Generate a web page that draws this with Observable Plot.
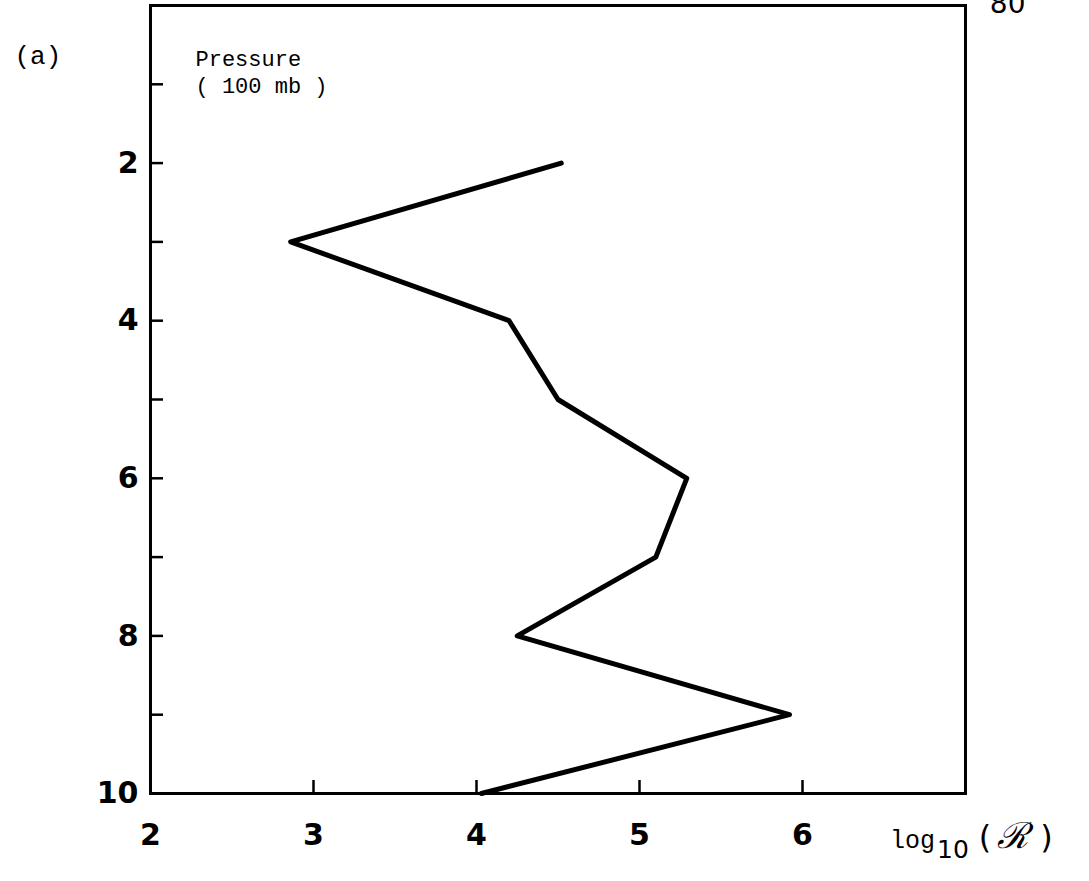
<!DOCTYPE html>
<html>
<head>
<meta charset="utf-8">
<script src="https://cdn.jsdelivr.net/npm/d3@7"></script>
<script src="https://cdn.jsdelivr.net/npm/@observablehq/plot@0.6"></script>
<style>
  body { margin: 0; background: #fff; }
  #chart svg { display: block; }
</style>
</head>
<body>
<div id="chart"></div>
<script>
// Vertical profile of log10(R) against pressure (in units of 100 mb)
const pressure = [2, 3, 4, 5, 6, 7, 8, 9, 10];
const logR = [4.52, 2.86, 4.2, 4.5, 5.29, 5.1, 4.25, 5.92, 4.03];

const xTicks = [3, 4, 5, 6];
const xTickLabels = [2, 3, 4, 5, 6];
const yTicks = [1, 2, 3, 4, 5, 6, 7, 8, 9];
const yTickLabels = [2, 4, 6, 8, 10];

const profile = pressure.map((p, i) => ({pressure: p, logR: logR[i]}));

const mono = "'Liberation Mono', 'DejaVu Sans Mono', monospace";
const sans = "'DejaVu Sans', sans-serif";

const chart = Plot.plot({
  width: 1089,
  height: 881,
  marginLeft: 150,
  marginRight: 124,
  marginTop: 5,
  marginBottom: 88,
  x: {domain: [2, 7]},
  y: {domain: [0, 10], reverse: true},
  style: {background: "white", color: "black", overflow: "visible"},
  marks: [
    // inward ticks on the bottom and left edges
    Plot.axisX({ticks: xTicks, tickSize: 13, dy: -13, fill: "none", label: null, strokeWidth: 2.5}),
    Plot.axisY({ticks: yTicks, tickSize: 13, dx: 13, fill: "none", label: null, strokeWidth: 2.5}),
    // tick labels
    Plot.axisX({ticks: xTickLabels, tickFormat: "d", tickSize: 0, tickPadding: 30, label: null,
      fontSize: 30, fontWeight: "bold", fontFamily: sans}),
    Plot.axisY({ticks: yTickLabels, tickFormat: "d", tickSize: 0, tickPadding: 12, label: null,
      fontSize: 30, fontWeight: "bold", fontFamily: sans}),
    Plot.frame({stroke: "black", strokeWidth: 3}),
    Plot.line(profile, {x: "logR", y: "pressure", stroke: "black", strokeWidth: 5,
      strokeLinejoin: "round", strokeLinecap: "round"}),
    Plot.text(["(a)"], {frameAnchor: "top-left", dx: -136, dy: 40, textAnchor: "start",
      fontSize: 26, fontFamily: mono}),
    Plot.text(["Pressure\n( 100 mb )"], {frameAnchor: "top-left", dx: 45, dy: 42,
      textAnchor: "start", lineAnchor: "top", lineHeight: 1.2, fontSize: 22, fontFamily: mono}),
    Plot.text(["80"], {frameAnchor: "top-right", dx: 60, dy: -12, fontSize: 28, fontFamily: sans})
  ]
});

// axis title: log10 (R) with a subscript base
const svg = d3.select(chart);
const xs = chart.scale("x");
const title = svg.append("text")
  .attr("x", xs.apply(7) - 75)
  .attr("y", 848)
  .attr("text-anchor", "start")
  .attr("fill", "black");
title.append("tspan").attr("font-family", mono).attr("font-size", 25).text("log");
title.append("tspan").attr("font-family", sans).attr("font-size", 25).attr("dx", 2).attr("dy", 10).text("10");
title.append("tspan").attr("font-family", sans).attr("font-size", 32).attr("dx", 10).attr("dy", -10).text("(");
title.append("tspan").attr("font-family", "'DejaVu Serif', serif").attr("font-style", "italic").attr("font-size", 36).attr("dx", 6).text("ℛ");
title.append("tspan").attr("font-family", sans).attr("font-size", 32).attr("dx", 12).text(")");

document.getElementById("chart").append(chart);
</script>
</body>
</html>
